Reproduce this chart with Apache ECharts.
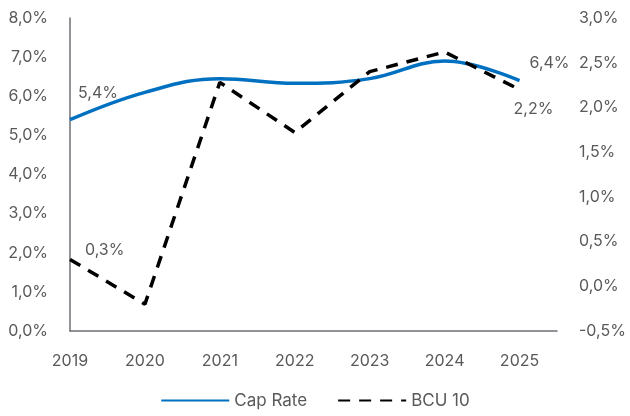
<!DOCTYPE html>
<html>
<head>
<meta charset="utf-8">
<script src="https://cdn.jsdelivr.net/npm/echarts@6/dist/echarts.min.js"></script>
<style>
  html, body { margin: 0; padding: 0; background: #fff; }
  #main { width: 630px; height: 416px; }
</style>
</head>
<body>
<div id="main"></div>
<script>
  var years = [2019, 2020, 2021, 2022, 2023, 2024, 2025];
  var capRate = [5.4, 6.1, 6.45, 6.33, 6.45, 6.9, 6.4];
  var bcu10 = [0.3, -0.2, 2.28, 1.72, 2.4, 2.62, 2.2];
  var leftTicks = [0, 1, 2, 3, 4, 5, 6, 7, 8];
  var rightTicks = [-0.5, 0, 0.5, 1, 1.5, 2, 2.5, 3];

  var font = 'Inter, "Open Sans", sans-serif';
  var grey = '#595959';

  function pct(v) {
    return v.toFixed(1).replace('.', ',') + '%';
  }

  function pairs(vals) {
    return vals.map(function (v, i) { return [years[i], v]; });
  }

  // label only on first and last point
  function endLabels(vals, firstPos, lastPos) {
    return pairs(vals).map(function (p, i) {
      var item = { value: p };
      if (i === 0 || i === vals.length - 1) {
        item.label = {
          show: true,
          position: i === 0 ? firstPos : lastPos,
          formatter: function (o) { return pct(o.value[1]); }
        };
      }
      return item;
    });
  }

  var chart = echarts.init(document.getElementById('main'));
  chart.setOption({
    animation: false,
    textStyle: { fontFamily: font },
    grid: { left: 70, right: 73, top: 18, bottom: 85 },
    legend: {
      bottom: 2,
      left: 'center',
      itemWidth: 68,
      itemHeight: 4,
      itemGap: 30,
      itemStyle: { opacity: 0 },
      textStyle: { color: grey, fontSize: 17, fontFamily: font },
      data: ['Cap Rate', 'BCU 10']
    },
    xAxis: {
      type: 'value',
      min: years[0],
      max: years[years.length - 1] + 0.5,
      interval: 1,
      splitLine: { show: false },
      axisTick: { show: false },
      axisLine: { show: true, lineStyle: { color: '#6e6e75', width: 1.5 } },
      axisLabel: {
        color: grey, fontSize: 16, margin: 22,
        formatter: function (v) { return Number.isInteger(v) ? String(v) : ''; }
      }
    },
    yAxis: [{
      type: 'value',
      min: leftTicks[0],
      max: leftTicks[leftTicks.length - 1],
      interval: 1,
      splitLine: { show: false },
      axisTick: { show: false },
      axisLine: { show: true, lineStyle: { color: '#6e6e75', width: 1.5 } },
      axisLabel: { color: grey, fontSize: 16, margin: 22, formatter: pct }
    }, {
      type: 'value',
      min: rightTicks[0],
      max: rightTicks[rightTicks.length - 1],
      interval: 0.5,
      splitLine: { show: false },
      axisTick: { show: false },
      axisLine: { show: false },
      axisLabel: { color: grey, fontSize: 16, margin: 22, formatter: pct }
    }],
    series: [{
      name: 'Cap Rate',
      type: 'line',
      yAxisIndex: 0,
      smooth: 0.4,
      symbol: 'circle',
      symbolSize: 0,
      lineStyle: { color: '#0070C0', width: 3.5 },
      itemStyle: { color: '#0070C0' },
      label: { color: grey, fontSize: 16 },
      data: endLabels(capRate, [8, -35], [10, -25])
    }, {
      name: 'BCU 10',
      type: 'line',
      yAxisIndex: 1,
      symbol: 'circle',
      symbolSize: 0,
      lineStyle: { color: '#000', width: 3.5, type: [12, 9] },
      itemStyle: { color: '#000' },
      label: { color: grey, fontSize: 16 },
      data: endLabels(bcu10, [15, -17], [-6, 12])
    }]
  });
</script>
</body>
</html>
